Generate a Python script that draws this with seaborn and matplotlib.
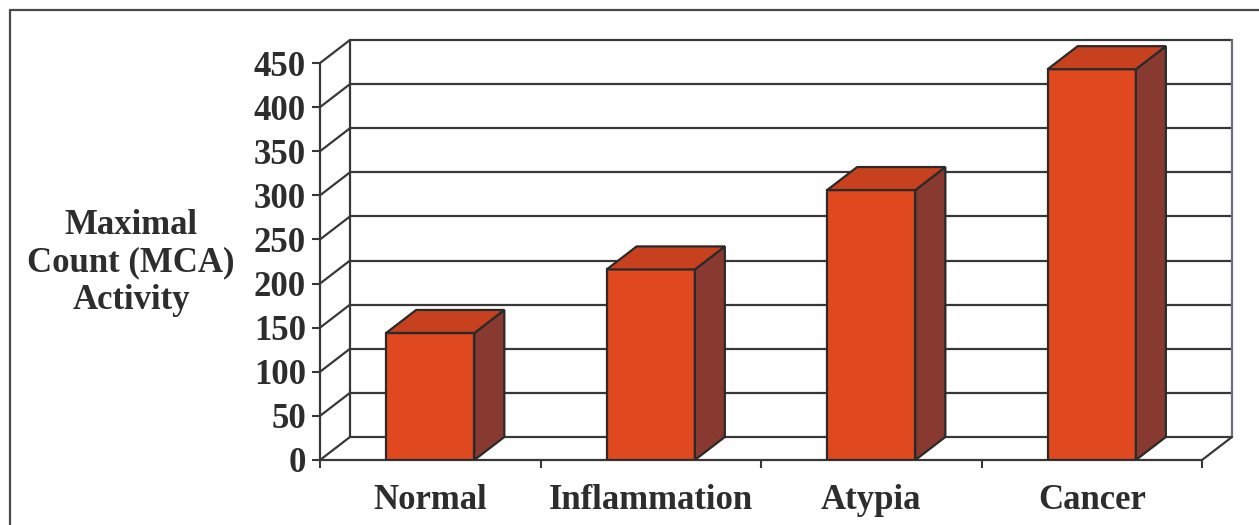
import matplotlib
matplotlib.use("Agg")
import matplotlib.pyplot as plt
from matplotlib.patches import Polygon
from matplotlib.lines import Line2D
import seaborn as sns
import pandas as pd

# Data
categories = ["Normal", "Inflammation", "Atypia", "Cancer"]
mca_activity = [144, 216, 306, 443]
y_ticks = [0, 50, 100, 150, 200, 250, 300, 350, 400, 450]
y_label = "Maximal\nCount (MCA)\nActivity"

# Styling
FRONT = "#E0481F"
TOP = "#C8411F"
SIDE = "#883A31"
EDGE = "#2A2A2A"
GRID = "#383838"
TEXT = "#2D2D2D"
BAR_W = 0.4
DX = 0.136   # oblique depth, category units
DY = 26.1    # oblique depth, value units

sns.set_theme(style="white")
plt.rcParams["font.family"] = ["Liberation Serif", "DejaVu Serif"]
plt.rcParams["font.weight"] = "bold"

fig = plt.figure(figsize=(12.59, 5.25), dpi=100)
fig.patch.set_facecolor("white")
ax = fig.add_axes([320 / 1259, 65 / 525, 912 / 1259, 420 / 525])
ax.set_facecolor("white")

df = pd.DataFrame({"category": categories, "value": mca_activity})
sns.barplot(data=df, x="category", y="value", width=BAR_W, color=FRONT,
            saturation=1, edgecolor=EDGE, linewidth=1.6, ax=ax, zorder=4)

n = len(categories)
x_lo, x_hi = -0.5, n - 0.5
y_top = y_ticks[-1]

# Back wall, side wall and floor of the box
lw = 1.6
for v in y_ticks:
    ax.plot([x_lo + DX, x_hi + DX], [v + DY, v + DY], color=GRID, lw=lw, zorder=1, clip_on=False)
    ax.plot([x_lo, x_lo + DX], [v, v + DY], color=GRID, lw=lw, zorder=1, clip_on=False)
ax.plot([x_lo + DX, x_lo + DX], [DY, y_top + DY], color=GRID, lw=lw, zorder=1, clip_on=False)
ax.plot([x_hi + DX, x_hi + DX], [DY, y_top + DY], color="#6E6E7A", lw=lw, zorder=1, clip_on=False)
ax.plot([x_lo, x_lo], [0, y_top], color=GRID, lw=lw, zorder=2, clip_on=False)
ax.plot([x_lo, x_hi], [0, 0], color=GRID, lw=lw, zorder=2, clip_on=False)
ax.plot([x_hi, x_hi + DX], [0, DY], color=GRID, lw=lw, zorder=2, clip_on=False)

# Top and side faces of each bar
for p in ax.patches:
    x0 = p.get_x()
    w = p.get_width()
    h = p.get_height()
    x1 = x0 + w
    side = Polygon([(x1, 0), (x1 + DX, DY), (x1 + DX, h + DY), (x1, h)], closed=True,
                   facecolor=SIDE, edgecolor=EDGE, linewidth=1.6, zorder=4)
    top = Polygon([(x0, h), (x1, h), (x1 + DX, h + DY), (x0 + DX, h + DY)], closed=True,
                  facecolor=TOP, edgecolor=EDGE, linewidth=1.6, zorder=4)
    ax.add_patch(side)
    ax.add_patch(top)

ax.set_xlim(x_lo, x_hi + DX)
ax.set_ylim(0, y_top + DY)
for s in ax.spines.values():
    s.set_visible(False)

# Y ticks
ax.set_yticks(y_ticks)
ax.set_yticklabels([str(v) for v in y_ticks], fontsize=25, fontweight="bold", color=TEXT)
ax.tick_params(axis="y", left=True, length=6, width=1.5, color=GRID, pad=4)

# X ticks: marks at category boundaries, labels at centres
ax.set_xticks([i - 0.5 for i in range(n + 1)])
ax.set_xticklabels([])
ax.tick_params(axis="x", which="major", bottom=True, length=6, width=1.5, color=GRID)
ax.set_xticks(list(range(n)), minor=True)
ax.set_xticklabels(categories, minor=True, fontsize=25, fontweight="bold", color=TEXT)
ax.tick_params(axis="x", which="minor", bottom=True, length=0, pad=17)
ax.set_xlabel("")
ax.set_ylabel("")

fig.text(131 / 1259, 1 - 263 / 525, y_label, ha="center", va="center",
         multialignment="center", fontsize=25, fontweight="bold", color=TEXT,
         linespacing=1.18)

# Outer frame (top and left edges)
fx, fy = 10 / 1259, 1 - 10 / 525
fig.add_artist(Line2D([fx, fx], [0, fy], transform=fig.transFigure, color="#4A4A4A", lw=1.6))
fig.add_artist(Line2D([fx, 1], [fy, fy], transform=fig.transFigure, color="#4A4A4A", lw=1.6))

fig.savefig("out.png", dpi=100, facecolor="white")
